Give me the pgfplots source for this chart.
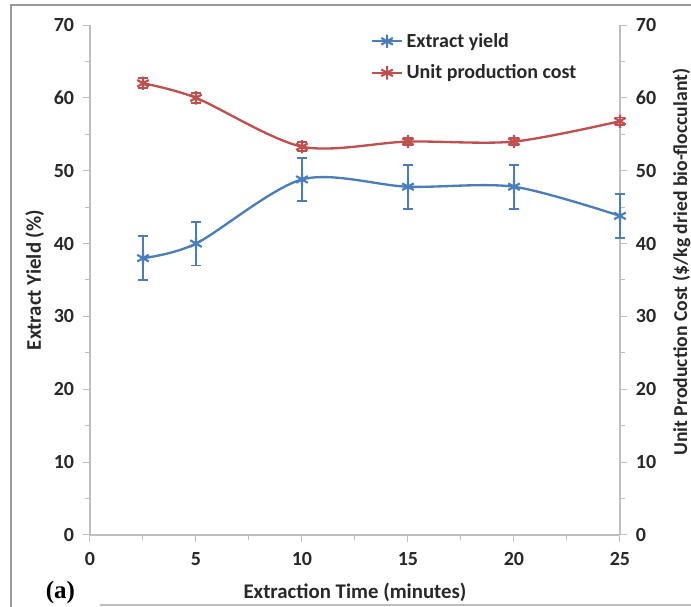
\documentclass[border=0pt]{standalone}
\usepackage{pgfplots}
\pgfplotsset{compat=1.18}
\usepackage{fontspec}
\setmainfont{Carlito}
\newfontfamily\serifb{Liberation Serif}
\definecolor{eblue}{RGB}{74,126,187}
\definecolor{ered}{RGB}{192,80,77}
\definecolor{agrey}{RGB}{190,190,190}
\definecolor{txt}{RGB}{40,40,40}
\begin{document}
\begin{tikzpicture}[x=0.6pt,y=0.6pt]
\useasboundingbox (0,0) rectangle (691,607);
\draw[agrey!80!black, line width=1.2pt] (11,0) -- (11,602) -- (691,602);
\draw[agrey, line width=0.8pt] (100,2) -- (691,2);
\node[font=\serifb\bfseries\fontsize{15}{15}\selectfont, anchor=west] at (40,14) {(a)};
\begin{axis}[
  at={(54pt,43.2pt)}, anchor=south west,
  scale only axis, width=318pt, height=306pt,
  xmin=0, xmax=25, ymin=0, ymax=70,
  axis x line=none, axis y line*=right,
  axis line style={agrey, line width=0.8pt},
  ytick={0,10,...,70}, minor ytick={5,15,...,65},
  tick style={agrey, line width=0.6pt},
  tick align=outside, major tick length=4pt, minor tick length=3pt,
  /pgf/number format/assume math mode=true,
  ticklabel style={font=\bfseries\fontsize{12}{13}\selectfont, text=txt},
  yticklabel style={xshift=2pt},
  ylabel={Unit Production Cost (\$/kg dried bio-flocculant)},
  label style={font=\bfseries\fontsize{11.8}{14}\selectfont, text=txt},
  ylabel style={at={(ticklabel cs:0.535)}, yshift=-3pt},
]
\addplot[draw=none] coordinates {(0,0)};
\end{axis}
\begin{axis}[
  at={(54pt,43.2pt)}, anchor=south west,
  scale only axis, width=318pt, height=306pt,
  xmin=0, xmax=25, ymin=0, ymax=70, clip=false,
  axis x line*=bottom, axis y line*=left,
  axis line style={agrey, line width=0.8pt},
  xtick={0,5,...,25}, ytick={0,10,...,70},
  minor xtick={2.5,7.5,...,22.5}, minor ytick={5,15,...,65},
  tick style={agrey, line width=0.6pt},
  tick align=outside, major tick length=4pt, minor tick length=3pt,
  /pgf/number format/assume math mode=true,
  ticklabel style={font=\bfseries\fontsize{12}{13}\selectfont, text=txt},
  xticklabel style={yshift=-3pt},
  yticklabel style={xshift=-2pt},
  xlabel={Extraction Time (minutes)},
  ylabel={Extract Yield (\%)},
  label style={font=\bfseries\fontsize{12.5}{14}\selectfont, text=txt},
  xlabel style={yshift=-3.5pt},
  ylabel style={yshift=-1pt},
  legend style={draw=none, fill=none, at={(0.52,0.998)}, anchor=north west,
    font=\bfseries\fontsize{12}{13}\selectfont, text=txt, row sep=5pt},
  legend cell align=left,
  legend image code/.code={\draw[#1] (0pt,0pt) -- (18pt,0pt); \draw[#1,mark repeat=1] plot coordinates {(9pt,0pt)};},
]
\addplot[eblue, line width=1.4pt, smooth, mark=asterisk, mark size=4pt,
  mark options={line width=1.3pt, solid},
  error bars/.cd, y dir=both, y explicit,
  error bar style={eblue, line width=1.4pt},
  error mark options={eblue, rotate=90, line width=1.1pt, mark size=3pt}]
coordinates {
 (2.5,38.0) +- (0,3.0)
 (5,40.0) +- (0,3.0)
 (10,48.8) +- (0,3.0)
 (15,47.8) +- (0,3.0)
 (20,47.8) +- (0,3.0)
 (25,43.8) +- (0,3.0)
};
\addlegendentry{Extract yield}
\addplot[ered, line width=1.4pt, smooth, mark=asterisk, mark size=4pt,
  mark options={line width=1.3pt, solid},
  error bars/.cd, y dir=both, y explicit,
  error bar style={ered, line width=1.4pt},
  error mark options={ered, rotate=90, line width=1.1pt, mark size=3pt}]
coordinates {
 (2.5,62.0) +- (0,0.7)
 (5,60.0) +- (0,0.7)
 (10,53.3) +- (0,0.6)
 (15,54.0) +- (0,0.5)
 (20,54.0) +- (0,0.5)
 (25,56.8) +- (0,0.5)
};
\addlegendentry{Unit production cost}
\end{axis}
\end{tikzpicture}
\end{document}
